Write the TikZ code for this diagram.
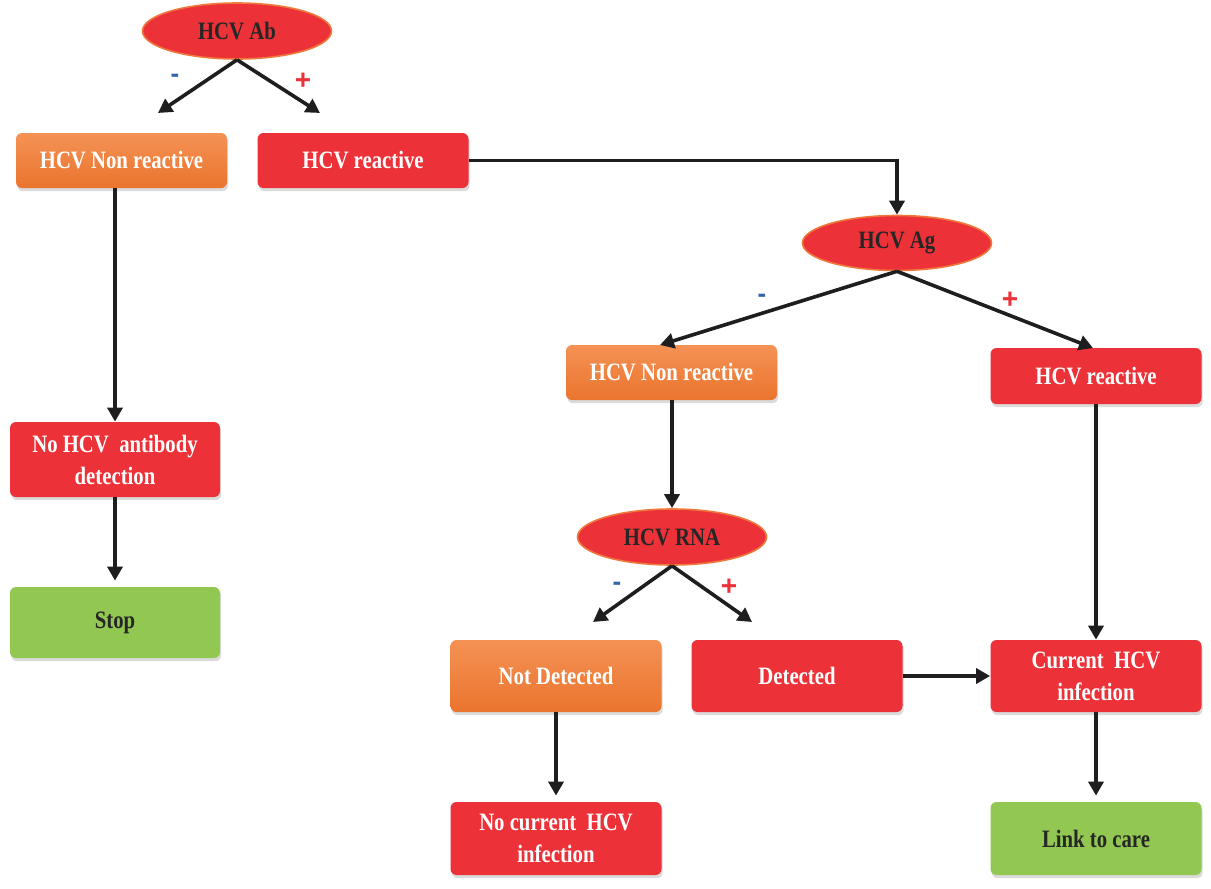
\documentclass[tikz,border=0pt]{standalone}
\usepackage{fontspec}
\setmainfont{Liberation Serif}[FakeStretch=0.83]
\newfontfamily\signfont{Liberation Sans}
\usetikzlibrary{arrows.meta,shapes.geometric,shadows}
\definecolor{boxred}{RGB}{236,50,56}
\definecolor{orgtop}{RGB}{244,146,84}
\definecolor{orgbot}{RGB}{234,116,46}
\definecolor{boxgreen}{RGB}{146,200,82}
\definecolor{glow}{RGB}{240,120,60}
\definecolor{minusblue}{RGB}{50,100,170}
\definecolor{linegray}{RGB}{30,30,30}
\tikzset{
  base/.style={rectangle, rounded corners=3pt, minimum width=105.5pt, inner sep=2pt,
    align=center, font=\bfseries\fontsize{12.5}{16}\selectfont,
    drop shadow={shadow xshift=0.6pt, shadow yshift=-1.6pt, opacity=0.35, fill=gray!80}},
  redbox/.style={base, fill=boxred, text=white},
  orangebox/.style={base, top color=orgtop, bottom color=orgbot, text=white},
  greenbox/.style={base, fill=boxgreen, text=black!85},
  oval/.style={ellipse, fill=boxred, draw=glow, line width=0.8pt, minimum width=94.5pt,
    minimum height=28pt, inner sep=0pt, text=black!85, font=\bfseries\fontsize{12.5}{16}\selectfont},
  arr/.style={draw=linegray, line width=1.8pt, -{Triangle[length=7pt,width=7.5pt]}},
  minus/.style={text=minusblue, font=\signfont\bfseries\fontsize{13}{14}\selectfont},
  plus/.style={text=boxred, font=\signfont\bfseries\fontsize{14}{15}\selectfont},
}
\begin{document}
\begin{tikzpicture}[x=0.5pt,y=-0.5pt]
\fill[white] (0,0) rectangle (1211,889);
\useasboundingbox (0,0) rectangle (1211,889);

% top level
\node[oval] (ab) at (237,31) {HCV Ab};
\node[orangebox, minimum height=27.5pt] (abneg) at (121.5,160.5) {HCV Non reactive};
\node[redbox, minimum height=27.5pt] (abpos) at (363,160.5) {HCV reactive};
\node[redbox, minimum width=105pt, minimum height=37.5pt] (noab) at (115,459.5) {No HCV\ \ antibody\\detection};
\node[greenbox, minimum width=105pt, minimum height=35.5pt] (stop) at (115,622.5) {Stop};

% antigen level
\node[oval, minimum height=27.5pt] (ag) at (897,243) {HCV Ag};
\node[orangebox, minimum height=27.5pt] (agneg) at (671.5,372.5) {HCV Non reactive};
\node[redbox, minimum height=28pt] (agpos) at (1096,376) {HCV reactive};

% RNA level
\node[oval] (rna) at (672,537) {HCV RNA};
\node[orangebox, minimum height=36pt] (notdet) at (556,676) {Not Detected};
\node[redbox, minimum height=36pt] (det) at (797,676) {Detected};
\node[redbox, minimum height=36pt] (cur) at (1096,676) {Current\ \ HCV\\infection};
\node[redbox, minimum height=36.5pt] (nocur) at (556,838.5) {No current\ \ HCV\\infection};
\node[greenbox, minimum height=36.5pt] (link) at (1096,838.5) {Link to care};

% free arrow ends
\coordinate (abL) at (158,113);
\coordinate (abR) at (320,113);
\coordinate (agL) at (660,345);
\coordinate (agR) at (1093,348);
\coordinate (rnaL) at (593,622);
\coordinate (rnaR) at (752,622);

% connectors
\draw[arr] (ab.south) -- (abL);
\draw[arr] (ab.south) -- (abR);
\draw[arr] (noab.north |- abneg.south) -- (noab.north);
\draw[arr] (noab.south) -- ([yshift=3pt]stop.north);
\draw[arr] (abpos.east) -| (ag.north);
\draw[arr] (ag.south) -- (agL);
\draw[arr] (ag.south) -- (agR);
\draw[arr] (rna.north |- agneg.south) -- (rna.north);
\draw[arr] (rna.south) -- (rnaL);
\draw[arr] (rna.south) -- (rnaR);
\draw[arr] (agpos.south) -- (cur.north);
\draw[arr] (det.east) -- (cur.west);
\draw[arr] (notdet.south) -- ([yshift=3pt]nocur.north);
\draw[arr] (cur.south) -- ([yshift=3pt]link.north);

% signs
\node[minus] (m1) at (175,78) {-};
\node[plus] (p1) at (303,81) {+};
\node[minus] (m2) at (762,298) {-};
\node[plus] (p2) at (1010,300) {+};
\node[minus] (m3) at (617,586) {-};
\node[plus] (p3) at (729,587) {+};
\end{tikzpicture}
\end{document}
